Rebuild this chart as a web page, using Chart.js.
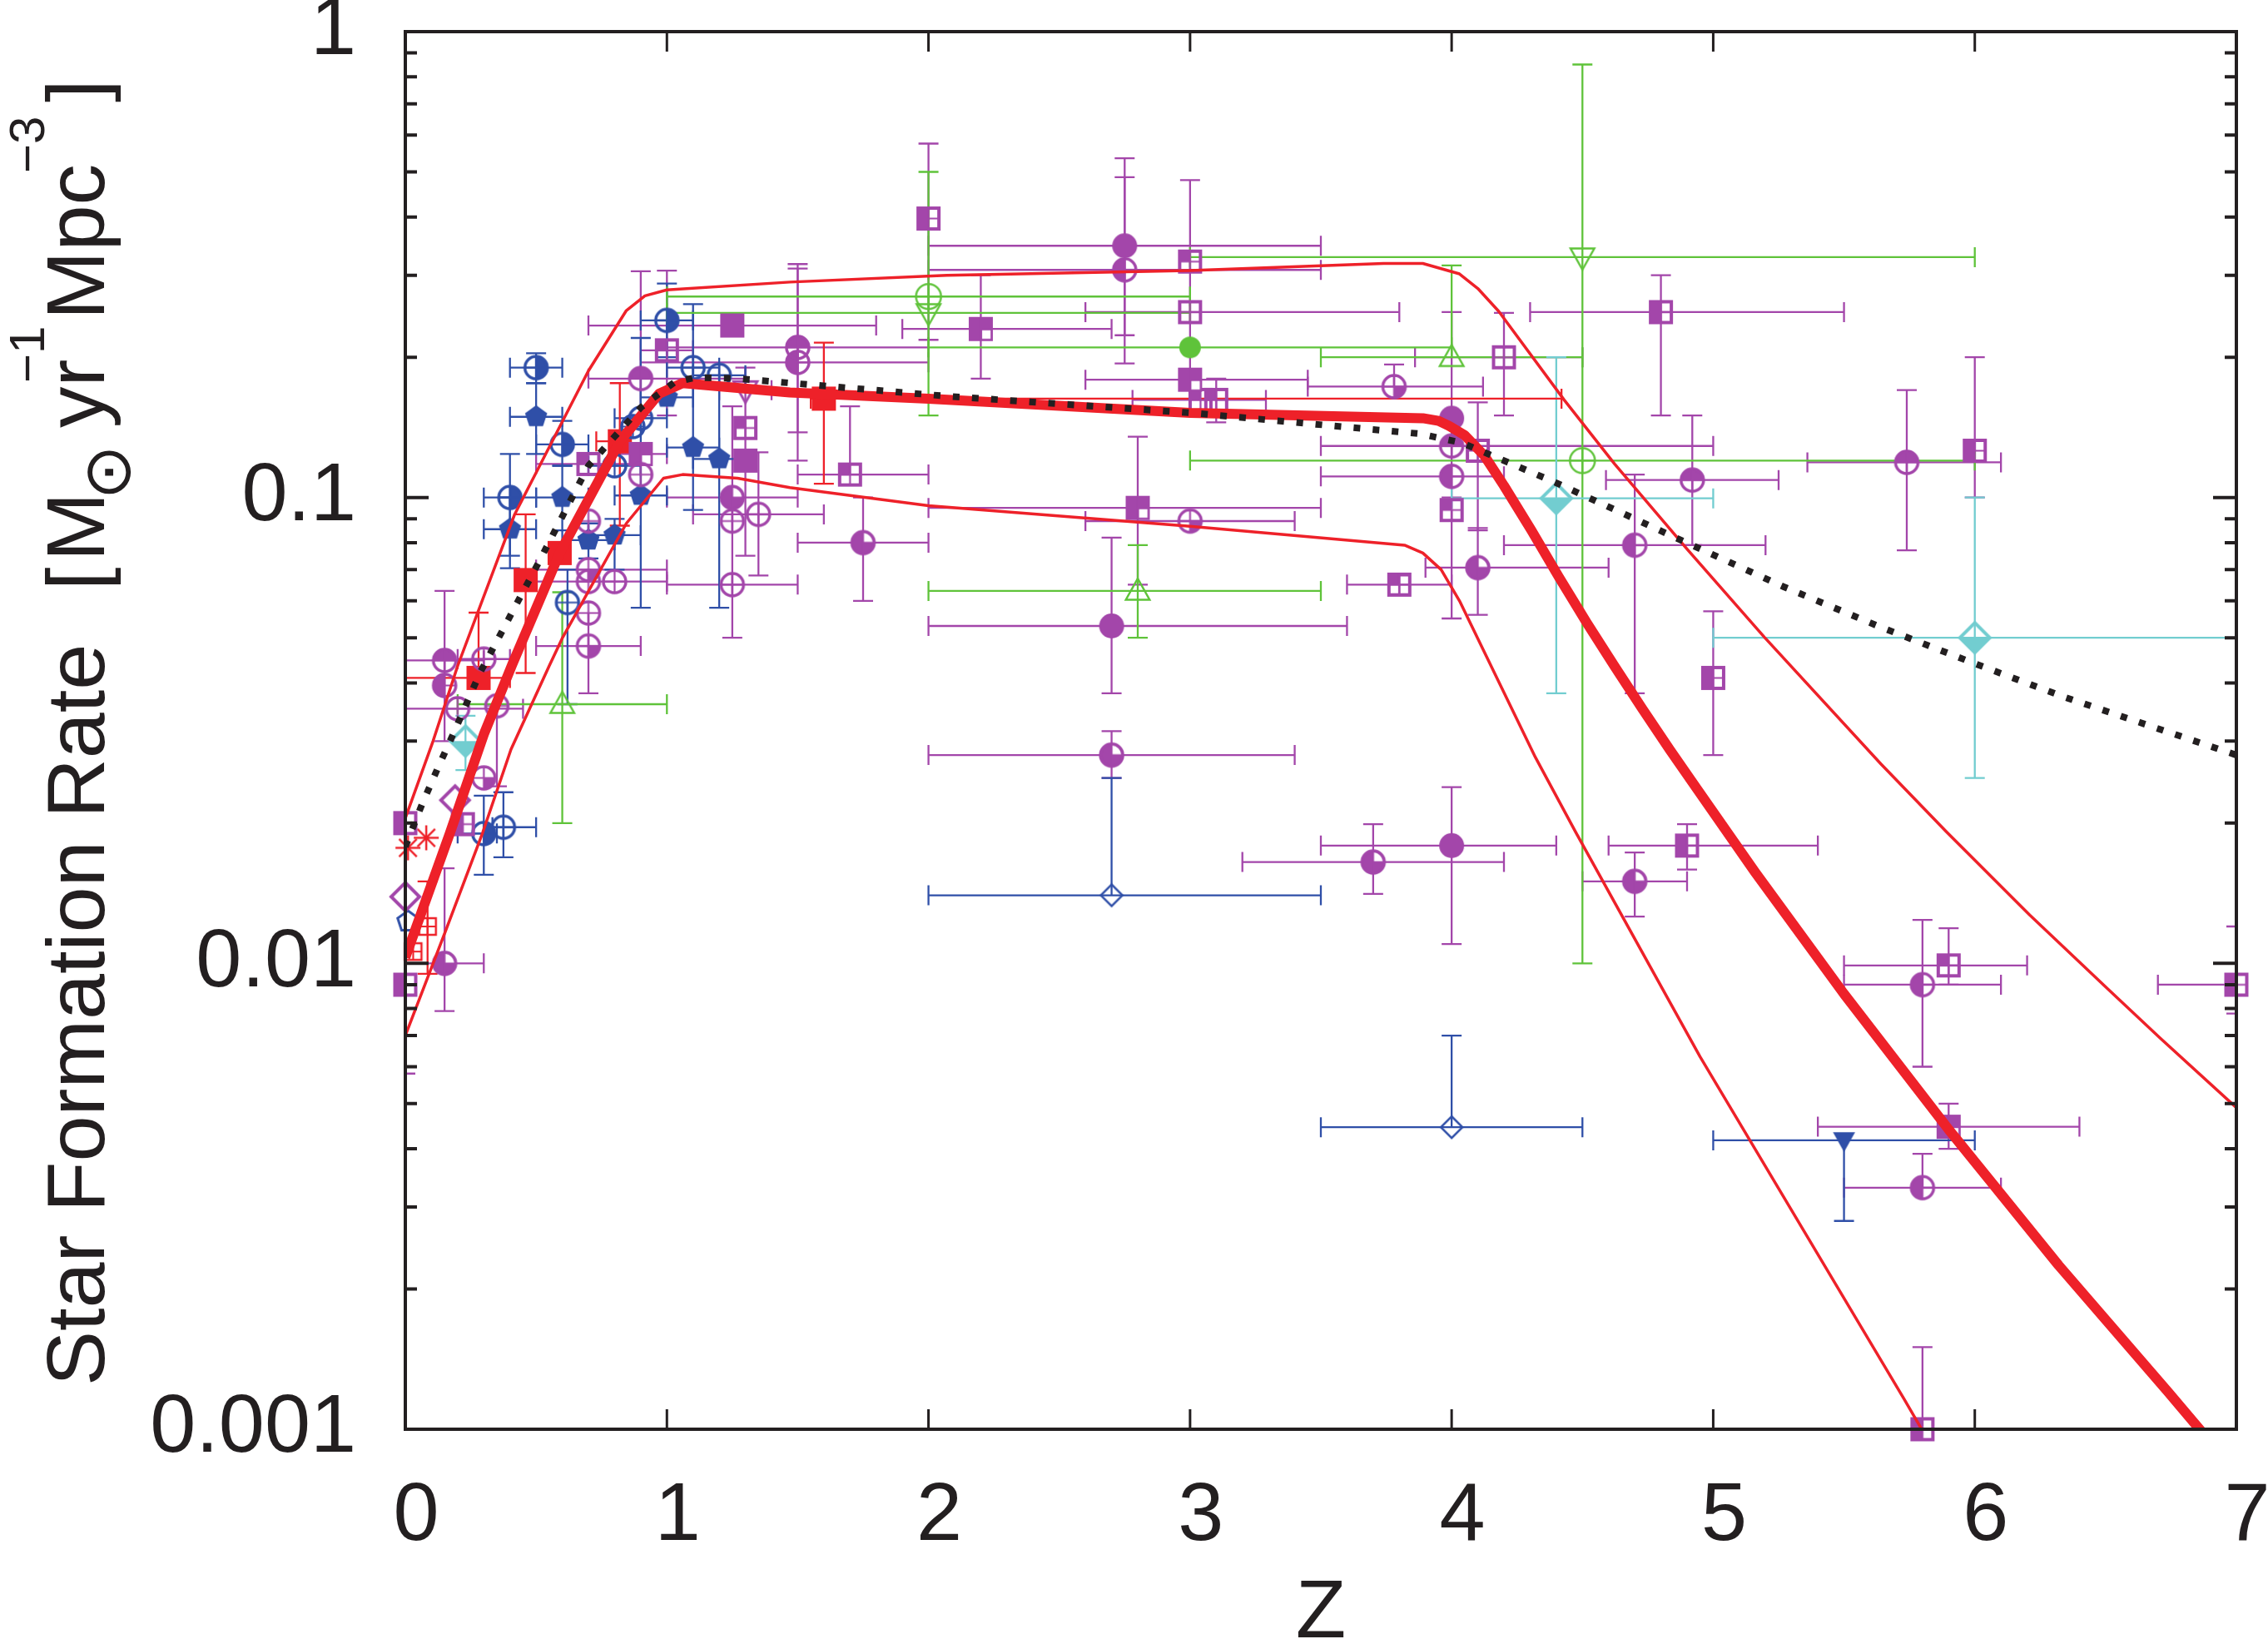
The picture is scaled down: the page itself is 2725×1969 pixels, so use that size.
<!DOCTYPE html>
<html>
<head>
<meta charset="utf-8">
<script src="https://cdn.jsdelivr.net/npm/chart.js@4.4.1/dist/chart.umd.min.js"></script>
<style>
  html, body { margin: 0; padding: 0; background: #fff; }
  #wrap { width: 2725px; height: 1969px; position: relative; }
</style>
</head>
<body>
<div id="wrap"><canvas id="sfr"></canvas></div>
<script>
// ---- axes ----
const Z_TICKS = [0, 1, 2, 3, 4, 5, 6, 7];
const Z_TICK_LABELS = ['0', '1', '2', '3', '4', '5', '6', '7'];
const SFR_TICKS = [0.001, 0.01, 0.1, 1];
const SFR_TICK_LABELS = ['0.001', '0.01', '0.1', '1'];

// ---- model curves (z, SFR) ----
const fitZ   = [0, 0.17, 0.30, 0.41, 0.59, 0.82, 0.97, 1.06, 1.47, 2.0, 3.0, 3.89, 3.95, 3.99, 4.05, 4.125, 4.20, 4.305, 4.41, 4.517, 4.623, 4.729, 4.835, 4.94, 5.16, 5.50, 5.90, 6.32, 6.74, 6.90];
const fitSFR = [0.0103, 0.019, 0.031, 0.044, 0.076, 0.132, 0.167, 0.176, 0.168, 0.163, 0.152, 0.148, 0.146, 0.1425, 0.136, 0.123, 0.106, 0.085, 0.0675, 0.0538, 0.0434, 0.0352, 0.0287, 0.0236, 0.0157, 0.0086, 0.0044, 0.00225, 0.0012, 0.00094];

const upperZ   = [0, 0.106, 0.2, 0.418, 0.70, 0.845, 0.916, 1.0, 1.47, 2.07, 3.0, 3.74, 3.89, 4.03, 4.10, 4.18, 4.43, 4.623, 4.90, 5.196, 5.641, 5.89, 6.21, 6.51, 6.71, 7.0];
const upperSFR = [0.0205, 0.030, 0.0435, 0.092, 0.187, 0.252, 0.271, 0.279, 0.29, 0.30, 0.307, 0.318, 0.318, 0.302, 0.281, 0.251, 0.162, 0.118, 0.0775, 0.0501, 0.0268, 0.0192, 0.0127, 0.0088, 0.0069, 0.0049];

const lowerZ   = [0, 0.153, 0.296, 0.404, 0.55, 0.60, 0.845, 0.987, 1.06, 1.27, 1.47, 2.0, 3.0, 3.82, 3.89, 3.96, 4.03, 4.32, 4.475, 4.95, 5.73, 5.82];
const lowerSFR = [0.0070, 0.0117, 0.0191, 0.0288, 0.0435, 0.0499, 0.088, 0.110, 0.112, 0.11, 0.105, 0.096, 0.0867, 0.079, 0.076, 0.070, 0.060, 0.0277, 0.0191, 0.0063, 0.00116, 0.00095];

const dotZ   = [0, 0.063, 0.126, 0.19, 0.285, 0.51, 0.70, 0.90, 1.03, 1.11, 1.27, 2.07, 3.0, 3.88, 4.04, 4.40, 4.70, 4.91, 5.27, 5.64, 6.0, 6.33, 7.0];
const dotSFR = [0.0178, 0.0219, 0.0264, 0.0317, 0.042, 0.0726, 0.117, 0.156, 0.177, 0.181, 0.18, 0.165, 0.152, 0.137, 0.131, 0.1075, 0.090, 0.0794, 0.0643, 0.0527, 0.0440, 0.0375, 0.028];

// ---- measurements: [z, SFR, zLo, zHi, sfrLo, sfrHi] ----
const purpleCircFull = [
  [2.75, 0.347, 2.0, 3.5, 0.194, 0.535],
  [2.70, 0.053, 2.0, 3.6, 0.038, 0.082],
  [4.00, 0.0179, 3.5, 4.4, 0.011, 0.0239],
  [4.00, 0.148, null, null, 0.10, 0.25],
];
const purpleCircTop = [
  [1.50, 0.21, 1.0, 2.0, 0.138, 0.317],
  [4.92, 0.109, 4.59, 5.25, 0.079, 0.15],
  [5.74, 0.119, 5.36, 6.1, 0.077, 0.17],
  [0.90, 0.18, 0.70, 1.30, 0.15, 0.306],
  [4.00, 0.129, 3.5, 5.0, null, null],
  [0.15, 0.0447, 0.0, 0.30, 0.03, 0.063],
];
const purpleCirc3q = [
  [2.70, 0.028, 2.0, 3.4, 0.025, 0.0315],
  [3.70, 0.0165, 3.2, 4.2, 0.0141, 0.0199],
  [4.70, 0.015, 4.5, 4.9, 0.0126, 0.0173],
  [1.75, 0.080, 1.5, 2.0, 0.06, 0.1],
  [1.25, 0.10, 1.0, 1.5, 0.05, 0.157],
  [0.15, 0.010, 0.0, 0.30, 0.0079, 0.016],
  [4.10, 0.0707, 3.9, 4.6, 0.056, 0.086],
];
const purpleCircLeft = [
  [5.80, 0.009, 5.5, 6.1, 0.006, 0.0124],
  [5.80, 0.0033, 5.5, 6.1, null, 0.0039],
  [2.75, 0.308, 2.0, 3.5, 0.223, 0.487],
  [0.15, 0.0395, null, null, null, null],
  [4.00, 0.111, 3.5, 4.2, null, null],
  [4.70, 0.079, 4.2, 5.2, 0.038, 0.112],
  [1.50, 0.195, 0.9, 2.0, 0.12, 0.31],
];
const purpleCircQuad = [
  [3.00, 0.089, 2.6, 3.4, null, null],
  [3.78, 0.173, 3.45, 4.12, null, 0.193],
  [0.70, 0.070, 0.5, 1.0, null, null],
  [0.70, 0.048, 0.5, 0.9, null, null],
  [0.30, 0.025, null, null, null, null],
];
const purpleCircOpen = [
  [1.35, 0.092, 1.1, 1.6, 0.068, 0.125],
  [1.25, 0.089, null, null, null, null],
  [1.25, 0.065, 1.0, 1.5, null, null],
  [0.90, 0.112, null, null, null, null],
  [0.70, 0.089, null, null, null, null],
  [0.70, 0.066, null, null, null, null],
  [0.80, 0.066, 0.5, 1.0, null, null],
  [0.70, 0.0565, null, null, 0.038, null],
  [0.30, 0.045, 0.2, 0.4, null, null],
  [0.20, 0.0352, 0.0, 0.45, null, null],
  [0.35, 0.0357, null, null, 0.024, null],
];
const purpleSqFull = [
  [1.25, 0.234, 0.7, 1.8, null, null],
  [1.30, 0.12, null, null, 0.075, 0.19],
];
const purpleSq3q = [
  [2.20, 0.23, 1.9, 2.7, 0.18, 0.30],
  [3.00, 0.179, 2.6, 3.45, null, null],
  [2.80, 0.095, 2.0, 3.5, 0.065, 0.135],
  [0.90, 0.124, 0.8, 1.0, null, null],
  [5.90, 0.00446, 5.4, 6.4, 0.004, 0.005],
];
const purpleSqHalf = [
  [2.00, 0.397, null, null, 0.218, 0.575],
  [4.80, 0.25, 4.3, 5.5, 0.15, 0.30],
  [6.00, 0.126, null, null, 0.1, 0.2],
  [5.00, 0.041, null, null, 0.028, 0.057],
  [4.90, 0.0179, 4.6, 5.4, 0.0159, 0.0199],
  [7.00, 0.009, 6.7, 7.0, 0.0078, 0.012],
  [5.80, 0.001, null, null, null, 0.0015],
  [0.00, 0.02, null, null, null, null],
  [0.00, 0.009, null, null, 0.0058, null],
  [0.22, 0.0199, null, null, null, null],
];
const purpleSqQuad = [
  [1.00, 0.207, 0.9, 1.1, 0.15, 0.307],
  [3.00, 0.321, null, null, 0.15, 0.48],
  [1.30, 0.141, null, null, null, null],
  [1.70, 0.112, 1.5, 2.0, null, 0.157],
  [0.70, 0.118, 0.5, 0.9, null, null],
  [3.04, 0.162, 2.78, 3.29, null, null],
  [3.10, 0.162, null, null, 0.145, 0.18],
  [3.80, 0.065, 3.6, 4.0, 0.062, 0.068],
  [4.10, 0.126, null, null, 0.085, 0.16],
  [4.00, 0.094, null, null, 0.055, null],
  [5.90, 0.0099, 5.5, 6.2, 0.009, 0.0119],
];
const purpleSqOpen = [
  [3.00, 0.25, 2.6, 3.8, null, null],
  [4.20, 0.20, 3.86, 4.5, 0.15, 0.249],
];
const purpleDiamond = [
  [0.00, 0.0139, null, null, null, null],
  [0.19, 0.0224, null, null, null, null],
];
const purpleTriDown = [
  [1.30, 0.17, 1.2, 1.4, null, null],
];

const blueCircHalf = [
  [0.50, 0.19, 0.4, 0.6, 0.176, 0.204],
  [0.60, 0.130, 0.5, 0.7, 0.117, 0.146],
  [0.40, 0.10, 0.3, 0.5, 0.075, 0.124],
  [1.00, 0.24, 0.9, 1.1, 0.2, 0.288],
  [0.30, 0.019, 0.2, 0.35, 0.0155, 0.0229],
];
const blueCircOpen = [
  [0.90, 0.148, 0.8, 1.0, 0.058, 0.22],
  [0.87, 0.142, null, null, null, null],
  [0.80, 0.117, 0.7, 0.9, null, null],
  [1.10, 0.19, 1.0, 1.2, 0.094, 0.26],
  [1.20, 0.183, 1.1, 1.3, 0.058, null],
  [0.62, 0.0595, null, null, 0.036, 0.07],
  [0.375, 0.0196, 0.333, 0.5, 0.0169, 0.0233],
];
const bluePentagon = [
  [0.50, 0.149, 0.4, 0.6, 0.124, 0.176],
  [0.40, 0.0855, 0.3, 0.5, 0.0705, 0.1],
  [0.60, 0.100, 0.5, 0.7, 0.085, 0.117],
  [0.70, 0.081, 0.6, 0.8, 0.074, 0.088],
  [0.80, 0.083, 0.7, 0.9, 0.07, 0.09],
  [1.10, 0.128, 1.0, 1.2, null, null],
  [1.20, 0.121, 1.1, 1.3, null, null],
  [1.00, 0.164, 0.9, 1.1, null, null],
  [0.90, 0.101, 0.8, 1.0, null, null],
];
const bluePentagonOpen = [
  [0.01, 0.0123, null, null, null, null],
];
const blueDiamond = [
  [2.70, 0.014, 2.0, 3.5, null, 0.025],
  [4.00, 0.00445, 3.5, 4.5, null, 0.007],
];
const blueTriDown = [
  [5.50, 0.00417, 5.0, 6.0, 0.0028, null],
];

const greenCircOpen = [
  [2.00, 0.27, 1.0, 3.0, 0.15, 0.50],
  [4.50, 0.12, 3.0, 6.0, null, null],
];
const greenTriDown = [
  [2.00, 0.249, 1.0, 3.0, null, null],
  [4.50, 0.328, 3.0, 6.0, 0.01, 0.85],
];
const greenTri = [
  [0.60, 0.036, 0.2, 1.0, 0.020, 0.0626],
  [2.80, 0.063, 2.0, 3.5, 0.05, 0.079],
  [4.00, 0.20, 3.5, 4.5, null, 0.315],
];
const greenCircFull = [
  [3.00, 0.21, 2.0, 4.0, null, null],
];

const cyanDiamond = [
  [0.23, 0.030, null, null, 0.026, 0.034],
  [4.40, 0.0996, 4.0, 5.0, 0.038, 0.2],
  [6.00, 0.050, 5.0, 7.0, 0.025, 0.1],
];

const redSqFull = [
  [0.28, 0.041, 0.0, 0.4, null, 0.0566],
  [0.46, 0.0665, 0.43, 0.5, 0.042, 0.092],
  [0.59, 0.076, null, null, null, null],
  [0.82, 0.132, 0.73, 0.85, 0.087, 0.176],
  [1.60, 0.163, 1.55, 4.42, 0.107, 0.215],
];
const redStar = [
  [0.01, 0.0177, null, null, null, null],
  [0.08, 0.0186, null, null, null, null],
];
const redSqOpen = [
  [0.085, 0.012, null, null, 0.0095, 0.015],
  [0.03, 0.0106, null, null, null, null],
];

// ---- style ----
const INK = '#231f20';
const PURPLE = '#a346aa';
const BLUE = '#2f4fa8';
const GREEN = '#5fc33a';
const CYAN = '#72cdd0';
const RED = '#ee2129';
const FONT = '"Liberation Sans", Arial, Helvetica, sans-serif';

function shapePath(g, shape, r) {
  g.beginPath();
  if (shape === 'circle') {
    g.arc(0, 0, r, 0, Math.PI * 2);
  } else if (shape === 'square') {
    g.rect(-r, -r, 2 * r, 2 * r);
  } else if (shape === 'diamond') {
    g.moveTo(0, -r); g.lineTo(r, 0); g.lineTo(0, r); g.lineTo(-r, 0); g.closePath();
  } else if (shape === 'triangle') {
    g.moveTo(0, -r); g.lineTo(r * 0.95, r * 0.7); g.lineTo(-r * 0.95, r * 0.7); g.closePath();
  } else if (shape === 'triDown') {
    g.moveTo(0, r); g.lineTo(r * 0.95, -r * 0.7); g.lineTo(-r * 0.95, -r * 0.7); g.closePath();
  } else if (shape === 'pentagon') {
    for (let k = 0; k < 5; k++) {
      const a = -Math.PI / 2 + k * 2 * Math.PI / 5;
      const px = r * Math.cos(a), py = r * Math.sin(a);
      if (k === 0) g.moveTo(px, py); else g.lineTo(px, py);
    }
    g.closePath();
  }
}

function makeMarker(shape, fill, color, r, lw) {
  const R = r + Math.ceil(lw) + 2;
  const c = document.createElement('canvas');
  c.width = c.height = 2 * R;
  const g = c.getContext('2d');
  g.translate(R, R);
  if (shape === 'star') {
    g.strokeStyle = color; g.lineWidth = lw;
    for (let k = 0; k < 4; k++) {
      const a = k * Math.PI / 4;
      g.beginPath();
      g.moveTo(-r * Math.cos(a), -r * Math.sin(a));
      g.lineTo(r * Math.cos(a), r * Math.sin(a));
      g.stroke();
    }
    return c;
  }
  g.save();
  shapePath(g, shape, r);
  g.clip();
  g.fillStyle = color;
  if (fill === 'full' || fill === 'noTR' || fill === 'noBR') g.fillRect(-R, -R, 2 * R, 2 * R);
  else if (fill === 'top') g.fillRect(-R, -R, 2 * R, R);
  else if (fill === 'bottom') g.fillRect(-R, 0, 2 * R, R);
  else if (fill === 'left') g.fillRect(-R, -R, R, 2 * R);
  else if (fill === 'right') g.fillRect(0, -R, R, 2 * R);
  else if (fill === 'qtl') g.fillRect(-R, -R, R, R);
  else if (fill === 'qbr') g.fillRect(0, 0, R, R);
  g.fillStyle = '#fff';
  if (fill === 'noTR') {
    g.beginPath(); g.moveTo(0, 0); g.arc(0, 0, r - lw * 0.6, -Math.PI / 2, 0); g.closePath(); g.fill();
  } else if (fill === 'noBR') {
    g.fillRect(lw * 0.4, lw * 0.4, r - lw * 1.1, r - lw * 1.1);
  }
  g.restore();
  if (fill !== 'full' && fill !== 'noBR') {
    shapePath(g, shape, r);
    g.strokeStyle = color; g.lineWidth = lw; g.stroke();
  }
  if ((shape === 'circle' || shape === 'square') && fill !== 'full') {
    g.strokeStyle = color; g.lineWidth = 2.2;
    g.beginPath();
    g.moveTo(-r, 0); g.lineTo(r, 0);
    g.moveTo(0, -r); g.lineTo(0, r);
    g.stroke();
  }
  return c;
}

function toPoints(rows) {
  return rows.map(([x, y, xMin, xMax, yMin, yMax]) => ({ x, y, xMin, xMax, yMin, yMax }));
}

function markerSet(label, rows, color, marker) {
  return {
    label,
    data: toPoints(rows),
    borderColor: color,
    backgroundColor: color,
    pointStyle: marker,
    pointRadius: 15,
    pointBorderWidth: 0,
    showLine: false,
    errorBars: true,
    clip: false,
  };
}

function curveSet(label, zs, vals, color, width, dash) {
  return {
    label,
    data: zs.map((z, i) => ({ x: z, y: vals[i] })),
    showLine: true,
    borderColor: color,
    borderWidth: width,
    borderDash: dash || [],
    borderCapStyle: 'butt',
    borderJoinStyle: 'round',
    pointRadius: 0,
    tension: 0,
    fill: false,
  };
}

// error bars drawn under the markers
const errorBarPlugin = {
  id: 'errorBars',
  beforeDatasetsDraw(chart) {
    const { ctx, chartArea: a, scales: { x, y } } = chart;
    const cap = 12;
    ctx.save();
    ctx.beginPath();
    ctx.rect(a.left, a.top, a.right - a.left, a.bottom - a.top);
    ctx.clip();
    ctx.lineWidth = 2.3;
    chart.data.datasets.forEach(ds => {
      if (!ds.errorBars) return;
      ctx.strokeStyle = ds.borderColor;
      ds.data.forEach(p => {
        const px = x.getPixelForValue(p.x), py = y.getPixelForValue(p.y);
        ctx.beginPath();
        if (p.xMin != null) {
          const q = x.getPixelForValue(p.xMin);
          ctx.moveTo(px, py); ctx.lineTo(q, py);
          ctx.moveTo(q, py - cap); ctx.lineTo(q, py + cap);
        }
        if (p.xMax != null) {
          const q = x.getPixelForValue(p.xMax);
          ctx.moveTo(px, py); ctx.lineTo(q, py);
          ctx.moveTo(q, py - cap); ctx.lineTo(q, py + cap);
        }
        if (p.yMin != null) {
          const q = y.getPixelForValue(p.yMin);
          ctx.moveTo(px, py); ctx.lineTo(px, q);
          ctx.moveTo(px - cap, q); ctx.lineTo(px + cap, q);
        }
        if (p.yMax != null) {
          const q = y.getPixelForValue(p.yMax);
          ctx.moveTo(px, py); ctx.lineTo(px, q);
          ctx.moveTo(px - cap, q); ctx.lineTo(px + cap, q);
        }
        ctx.stroke();
      });
    });
    ctx.restore();
  }
};

// box frame with inward ticks on all four sides
const framePlugin = {
  id: 'frame',
  afterDatasetsDraw(chart) {
    const { ctx, chartArea: a, scales: { x, y } } = chart;
    ctx.save();
    ctx.strokeStyle = INK;
    ctx.lineWidth = 3;
    ctx.beginPath();
    Z_TICKS.forEach(v => {
      const px = x.getPixelForValue(v);
      ctx.moveTo(px, a.bottom); ctx.lineTo(px, a.bottom - 24);
      ctx.moveTo(px, a.top); ctx.lineTo(px, a.top + 24);
    });
    ctx.stroke();
    ctx.lineWidth = 4;
    ctx.beginPath();
    SFR_TICKS.forEach((d, i) => {
      const py = y.getPixelForValue(d);
      ctx.moveTo(a.left, py); ctx.lineTo(a.left + 28, py);
      ctx.moveTo(a.right, py); ctx.lineTo(a.right - 28, py);
      if (i === SFR_TICKS.length - 1) return;
      for (let m = 2; m <= 9; m++) {
        const pm = y.getPixelForValue(d * m);
        ctx.moveTo(a.left, pm); ctx.lineTo(a.left + 14, pm);
        ctx.moveTo(a.right, pm); ctx.lineTo(a.right - 14, pm);
      }
    });
    ctx.stroke();
    ctx.lineWidth = 4;
    ctx.strokeRect(a.left, a.top, a.right - a.left, a.bottom - a.top);
    ctx.restore();
  }
};

// axis titles (the y title has a subscript sun symbol and superscripts)
const yTitleParts = [
  { text: 'Star Formation Rate', size: 99, shift: 0, at: 1665 },
  { text: '[', size: 99, shift: 0, at: 709 },
  { text: 'M', size: 99, shift: 0, at: 674 },
  { text: '\u2299', ink: 53, shift: 6, at: 567 },
  { text: 'yr', size: 99, shift: 0, at: 514 },
  { text: '\u22121', size: 60, shift: -72, at: 460 },
  { text: 'Mpc', size: 99, shift: 0, at: 384 },
  { text: '\u22123', size: 60, shift: -72, at: 208 },
  { text: ']', size: 99, shift: 0, at: 123 },
];

const titlePlugin = {
  id: 'axisTitles',
  afterDraw(chart) {
    const { ctx, chartArea: a } = chart;
    ctx.save();
    ctx.fillStyle = INK;
    ctx.font = '99px ' + FONT;
    ctx.textAlign = 'center';
    ctx.textBaseline = 'alphabetic';
    ctx.fillText('Z', (a.left + a.right) / 2, 1967);
    ctx.translate(125, 0);
    ctx.rotate(-Math.PI / 2);
    ctx.textAlign = 'left';
    yTitleParts.forEach(p => {
      if (p.ink) {
        // scale the symbol so its ink box has the wanted size, then centre it
        ctx.font = '100px "DejaVu Sans", sans-serif';
        let m = ctx.measureText(p.text);
        const box = Math.max(m.actualBoundingBoxLeft + m.actualBoundingBoxRight,
                             m.actualBoundingBoxAscent + m.actualBoundingBoxDescent);
        ctx.font = (100 * p.ink / box).toFixed(1) + 'px "DejaVu Sans", sans-serif';
        m = ctx.measureText(p.text);
        const cx = (m.actualBoundingBoxRight - m.actualBoundingBoxLeft) / 2;
        const cy = (m.actualBoundingBoxDescent - m.actualBoundingBoxAscent) / 2;
        ctx.fillText(p.text, -p.at - cx, p.shift - cy);
      } else {
        ctx.font = p.size + 'px ' + FONT;
        ctx.fillText(p.text, -p.at, p.shift);
      }
    });
    ctx.restore();
  }
};

const M = {
  circFull:  makeMarker('circle', 'full', PURPLE, 15, 0),
  circTop:   makeMarker('circle', 'top', PURPLE, 13.5, 3.5),
  circ3q:    makeMarker('circle', 'noTR', PURPLE, 13.5, 3.5),
  circLeft:  makeMarker('circle', 'left', PURPLE, 13.5, 3.5),
  circQuad:  makeMarker('circle', 'qbr', PURPLE, 13.5, 3.5),
  circOpen:  makeMarker('circle', 'open', PURPLE, 13.5, 3.5),
  sqFull:    makeMarker('square', 'full', PURPLE, 14.5, 0),
  sq3q:      makeMarker('square', 'noBR', PURPLE, 14.5, 4),
  sqHalf:    makeMarker('square', 'left', PURPLE, 12.5, 4),
  sqQuad:    makeMarker('square', 'qtl', PURPLE, 12.5, 4),
  sqOpen:    makeMarker('square', 'open', PURPLE, 12.5, 4),
  pDiamond:  makeMarker('diamond', 'open', PURPLE, 17, 4),
  pTriDown:  makeMarker('triDown', 'open', PURPLE, 15, 3),
  bCircHalf: makeMarker('circle', 'right', BLUE, 13.5, 3.5),
  bCircOpen: makeMarker('circle', 'open', BLUE, 13.5, 3.5),
  bPent:     makeMarker('pentagon', 'full', BLUE, 14, 0),
  bPentOpen: makeMarker('pentagon', 'open', BLUE, 13, 3),
  bDiamond:  makeMarker('diamond', 'open', BLUE, 13, 2.5),
  bTriDown:  makeMarker('triDown', 'full', BLUE, 14, 0),
  gCircOpen: makeMarker('circle', 'open', GREEN, 15, 2.5),
  gTriDown:  makeMarker('triDown', 'open', GREEN, 15, 2.5),
  gTri:      makeMarker('triangle', 'open', GREEN, 15, 2.5),
  gCircFull: makeMarker('circle', 'full', GREEN, 13, 0),
  cDiamond:  makeMarker('diamond', 'bottom', CYAN, 18, 4),
  rSqFull:   makeMarker('square', 'full', RED, 14.5, 0),
  rStar:     makeMarker('star', 'open', RED, 15, 2.5),
  rSqOpen:   makeMarker('square', 'open', RED, 10, 2.5),
};

const datasets = [
  curveSet('Dotted model', dotZ, dotSFR, INK, 8, [8, 15]),
  curveSet('Best fit', fitZ, fitSFR, RED, 12),
  curveSet('Upper bound', upperZ, upperSFR, RED, 3.5),
  curveSet('Lower bound', lowerZ, lowerSFR, RED, 3.5),
  markerSet('p1', purpleCircFull, PURPLE, M.circFull),
  markerSet('p2', purpleCircTop, PURPLE, M.circTop),
  markerSet('p3', purpleCirc3q, PURPLE, M.circ3q),
  markerSet('p4', purpleCircLeft, PURPLE, M.circLeft),
  markerSet('p5', purpleCircQuad, PURPLE, M.circQuad),
  markerSet('p6', purpleCircOpen, PURPLE, M.circOpen),
  markerSet('p7', purpleSqFull, PURPLE, M.sqFull),
  markerSet('p8', purpleSq3q, PURPLE, M.sq3q),
  markerSet('p9', purpleSqHalf, PURPLE, M.sqHalf),
  markerSet('p10', purpleSqQuad, PURPLE, M.sqQuad),
  markerSet('p11', purpleSqOpen, PURPLE, M.sqOpen),
  markerSet('p12', purpleDiamond, PURPLE, M.pDiamond),
  markerSet('p13', purpleTriDown, PURPLE, M.pTriDown),
  markerSet('b1', blueCircHalf, BLUE, M.bCircHalf),
  markerSet('b2', blueCircOpen, BLUE, M.bCircOpen),
  markerSet('b3', bluePentagon, BLUE, M.bPent),
  markerSet('b4', bluePentagonOpen, BLUE, M.bPentOpen),
  markerSet('b5', blueDiamond, BLUE, M.bDiamond),
  markerSet('b6', blueTriDown, BLUE, M.bTriDown),
  markerSet('g1', greenCircOpen, GREEN, M.gCircOpen),
  markerSet('g2', greenTriDown, GREEN, M.gTriDown),
  markerSet('g3', greenTri, GREEN, M.gTri),
  markerSet('g4', greenCircFull, GREEN, M.gCircFull),
  markerSet('c1', cyanDiamond, CYAN, M.cDiamond),
  markerSet('r1', redSqFull, RED, M.rSqFull),
  markerSet('r2', redStar, RED, M.rStar),
  markerSet('r3', redSqOpen, RED, M.rSqOpen),
];

new Chart(document.getElementById('sfr'), {
  type: 'scatter',
  data: { datasets },
  options: {
    animation: false,
    responsive: true,
    maintainAspectRatio: false,
    devicePixelRatio: 1,
    events: [],
    layout: { padding: { top: 38, right: 38, left: 0, bottom: 0 } },
    plugins: { legend: { display: false }, tooltip: { enabled: false } },
    scales: {
      x: {
        type: 'linear',
        min: 0, max: 7,
        grid: { display: false },
        border: { display: false },
        afterBuildTicks: s => { s.ticks = Z_TICKS.map(v => ({ value: v })); },
        ticks: {
          color: INK,
          font: { family: FONT, size: 99 },
          padding: 38,
          labelOffset: 13,
          maxRotation: 0,
          autoSkip: false,
          callback: (v, i) => Z_TICK_LABELS[i],
        },
        afterFit: s => { s.height = 252; s.paddingLeft = 0; s.paddingRight = 0; },
      },
      y: {
        type: 'logarithmic',
        min: 0.001, max: 1,
        grid: { display: false },
        border: { display: false },
        afterBuildTicks: s => { s.ticks = SFR_TICKS.map(v => ({ value: v })); },
        ticks: {
          color: INK,
          font: { family: FONT, size: 99 },
          padding: 51,
          autoSkip: false,
          callback: (v, i) => SFR_TICK_LABELS[i],
        },
        afterFit: s => { s.width = 487; s.paddingTop = 0; s.paddingBottom = 0; },
      },
    },
  },
  plugins: [errorBarPlugin, framePlugin, titlePlugin],
});
</script>
</body>
</html>
